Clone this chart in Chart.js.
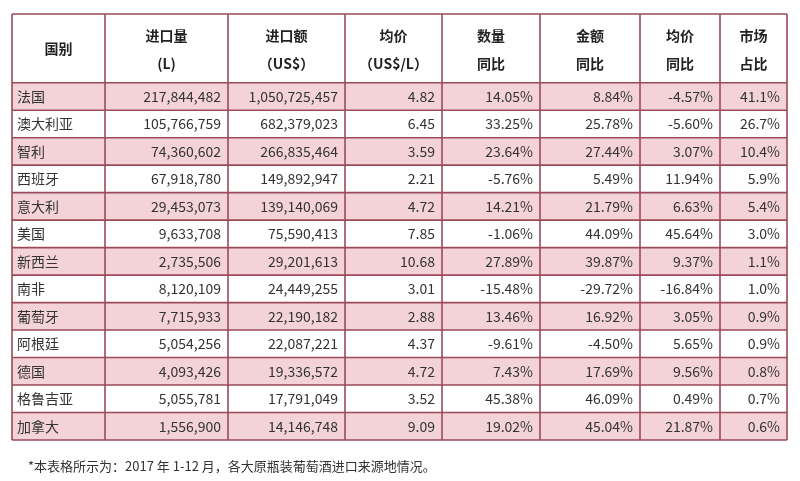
<!DOCTYPE html>
<html><head><meta charset="utf-8">
<script src="https://cdn.jsdelivr.net/npm/chart.js@4"></script>
<style>html,body{margin:0;background:#fff}#wrap{width:800px;height:481px}</style>
</head><body><div id="wrap"><canvas id="c"></canvas></div>
<script>
/* 2017年 各大原瓶装葡萄酒进口来源地 */
const HEAD1 = ['国别','进口量','进口额','均价','数量','金额','均价','市场'];
const HEAD2 = ['','(L)','（US$）','（US$/L）','同比','同比','同比','占比'];
const COUNTRIES = ['法国','澳大利亚','智利','西班牙','意大利','美国','新西兰','南非','葡萄牙','阿根廷','德国','格鲁吉亚','加拿大'];
const VOLUME = ['217,844,482','105,766,759','74,360,602','67,918,780','29,453,073','9,633,708','2,735,506','8,120,109','7,715,933','5,054,256','4,093,426','5,055,781','1,556,900'];
const VALUE = ['1,050,725,457','682,379,023','266,835,464','149,892,947','139,140,069','75,590,413','29,201,613','24,449,255','22,190,182','22,087,221','19,336,572','17,791,049','14,146,748'];
const PRICE = ['4.82','6.45','3.59','2.21','4.72','7.85','10.68','3.01','2.88','4.37','4.72','3.52','9.09'];
const VOL_YOY = ['14.05%','33.25%','23.64%','-5.76%','14.21%','-1.06%','27.89%','-15.48%','13.46%','-9.61%','7.43%','45.38%','19.02%'];
const VAL_YOY = ['8.84%','25.78%','27.44%','5.49%','21.79%','44.09%','39.87%','-29.72%','16.92%','-4.50%','17.69%','46.09%','45.04%'];
const PRICE_YOY = ['-4.57%','-5.60%','3.07%','11.94%','6.63%','45.64%','9.37%','-16.84%','3.05%','5.65%','9.56%','0.49%','21.87%'];
const SHARE = ['41.1%','26.7%','10.4%','5.9%','5.4%','3.0%','1.1%','1.0%','0.9%','0.9%','0.8%','0.7%','0.6%'];
const FOOTNOTE = '*本表格所示为：2017 年 1-12 月，各大原瓶装葡萄酒进口来源地情况。';

// 列边界（x 轴单位）与行高（y 轴单位，表头约 2.5 行）
const COL_EDGES = [0, 93, 216, 333, 430, 528, 628, 708, 775];
const HEAD_H = 2.5;
const FONT = "'Noto Sans CJK SC', 'Liberation Sans', sans-serif";

const COLS = [COUNTRIES, VOLUME, VALUE, PRICE, VOL_YOY, VAL_YOY, PRICE_YOY, SHARE];

const tablePlugin = {
  id: 'table',
  afterDraw(chart){
    const { ctx, scales:{ x, y } } = chart;
    const nRows = COUNTRIES.length;
    const X = v => x.getPixelForValue(v), Y = v => y.getPixelForValue(v);
    ctx.save();
    // 粉色隔行
    for(let r=0;r<nRows;r+=2){
      ctx.fillStyle = '#f3d3d8';
      ctx.fillRect(X(0), Y(HEAD_H+r), X(775)-X(0), Y(HEAD_H+r+1)-Y(HEAD_H+r));
    }
    // 网格线
    ctx.strokeStyle = '#9a4a58'; ctx.lineWidth = 1.6;
    COL_EDGES.forEach(c=>{ ctx.beginPath(); ctx.moveTo(X(c), Y(0)); ctx.lineTo(X(c), Y(HEAD_H+nRows)); ctx.stroke(); });
    [0, ...Array.from({length:nRows+1},(_,i)=>HEAD_H+i)].forEach(v=>{
      ctx.beginPath(); ctx.moveTo(X(0), Y(v)); ctx.lineTo(X(775), Y(v)); ctx.stroke();
    });
    // 表头
    ctx.fillStyle = '#222'; ctx.textAlign = 'center'; ctx.textBaseline = 'middle';
    ctx.font = `bold 14px ${FONT}`;
    HEAD1.forEach((h,i)=>{
      const cx = (X(COL_EDGES[i])+X(COL_EDGES[i+1]))/2;
      if(HEAD2[i]){
        ctx.fillText(h, cx, Y(0.8));
        ctx.fillText(HEAD2[i], cx, Y(1.8));
      } else ctx.fillText(h, cx, Y(HEAD_H/2));
    });
    // 数据
    ctx.font = `14px ${FONT}`; ctx.fillStyle = '#333';
    for(let r=0;r<nRows;r++){
      const cy = Y(HEAD_H+r+0.5);
      COLS.forEach((col,i)=>{
        if(i===0){ ctx.textAlign='left'; ctx.fillText(col[r], X(COL_EDGES[0])+5, cy); }
        else { ctx.textAlign='right'; ctx.fillText(col[r], X(COL_EDGES[i+1])-7, cy); }
      });
    }
    ctx.textAlign='left'; ctx.font = `13px ${FONT}`; ctx.fillStyle = '#333';
    ctx.fillText(FOOTNOTE, X(16), Y(HEAD_H+nRows)+26);
    ctx.restore();
  }
};

new Chart(document.getElementById('c'), {
  type:'scatter',
  data:{ datasets:[{ data:[] }] },
  plugins:[tablePlugin],
  options:{
    responsive:true, maintainAspectRatio:false, animation:false,
    layout:{ padding:{ left:12, right:13, top:14, bottom:41 } },
    plugins:{ legend:{display:false}, tooltip:{enabled:false} },
    scales:{
      x:{ type:'linear', min:0, max:775, display:false },
      y:{ type:'linear', min:0, max:HEAD_H+COUNTRIES.length, reverse:true, display:false }
    }
  }
});
</script></body></html>
